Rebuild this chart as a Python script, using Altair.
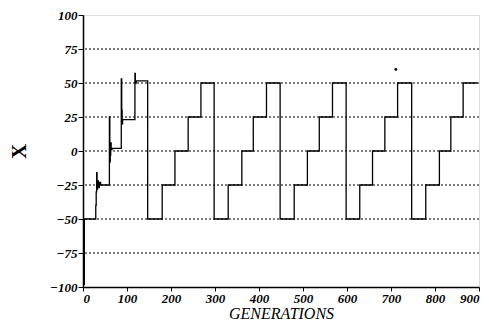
import altair as alt
import pandas as pd

# change points of the trace (value holds until the next generation)
gens = [0, 3, 29, 30, 31, 32, 33, 35, 37, 40, 60, 61, 62, 63, 64, 66,
        87, 88, 89, 90, 118, 119, 121, 147,
        180, 209, 239, 268, 298,
        330, 361, 387, 417, 448,
        480, 510, 537, 567, 598,
        629, 658, 686, 715, 747,
        779, 810, 836, 864, 897]
vals = [-98, -50, -40, -30, -16, -28, -22, -27, -23, -25, 25, -8, -3, 6, 1, 2,
        53, 30, 20, 23, 57, 50, 51.5, -50,
        -25, 0, 25, 50, -50,
        -25, 0, 25, 50, -50,
        -25, 0, 25, 50, -50,
        -25, 0, 25, 50, -50,
        -25, 0, 25, 50, 50]

dot_gen = [711]
dot_val = [60]

x_ticks = [0, 100, 200, 300, 400, 500, 600, 700, 800, 900]
y_ticks = [-100, -75, -50, -25, 0, 25, 50, 75, 100]
grid_vals = [-75, -50, -25, 0, 25, 50, 75]

df = pd.DataFrame({"gen": gens, "x": vals})
dots = pd.DataFrame({"gen": dot_gen, "x": dot_val})
grid = pd.DataFrame({"g": grid_vals})

FONT = "Liberation Serif"

xscale = alt.Scale(domain=[0, 900], nice=False, zero=False)
yscale = alt.Scale(domain=[-100, 100], nice=False, zero=False)

xaxis = alt.Axis(values=x_ticks, title="GENERATIONS", grid=False,
                 labelFont=FONT, labelFontSize=13, labelFontWeight="bold",
                 labelFontStyle="italic", labelColor="black",
                 titleFont=FONT, titleFontSize=16, titleFontStyle="italic",
                 titleFontWeight="normal", titleColor="black",
                 titleY=31, titleBaseline="alphabetic",
                 domainColor="black", tickColor="black", tickSize=4,
                 labelPadding=1, domainWidth=1.5)
yaxis = alt.Axis(values=y_ticks, title="X", grid=False,
                 labelFont=FONT, labelFontSize=13, labelFontWeight="bold",
                 labelFontStyle="italic", labelColor="black",
                 titleFont=FONT, titleFontSize=21, titleFontWeight="bold",
                 titleColor="black", titleX=-64, titleY=136,
                 titleBaseline="middle", titleAngle=270,
                 domainColor="black", tickColor="black", tickSize=5,
                 labelPadding=1, domainWidth=1.5)

gridlines = alt.Chart(grid).mark_rule(
    color="black", strokeWidth=1, strokeDash=[2, 2]
).encode(y=alt.Y("g:Q", scale=yscale, axis=yaxis))

line = alt.Chart(df).mark_line(
    interpolate="step-after", color="black", strokeWidth=1.3
).encode(
    x=alt.X("gen:Q", scale=xscale, axis=xaxis),
    y=alt.Y("x:Q", scale=yscale, axis=yaxis),
)

dot = alt.Chart(dots).mark_point(
    filled=True, color="black", size=8, opacity=1
).encode(x=alt.X("gen:Q", scale=xscale, axis=xaxis),
         y=alt.Y("x:Q", scale=yscale, axis=yaxis))

chart = alt.layer(gridlines, line, dot).properties(
    width=396, height=272,
    autosize=alt.AutoSizeParams(type="none"),
    padding={"left": 75, "top": 7, "right": 2, "bottom": 35},
).configure_view(stroke="black", strokeWidth=1.2).configure(background="white")

chart.save("out.html", embed_options={"renderer": "svg", "actions": False})
